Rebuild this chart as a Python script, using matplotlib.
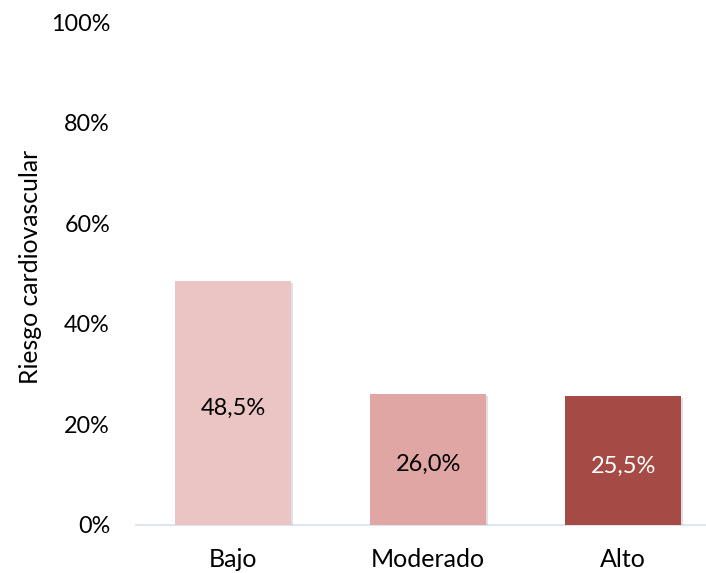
import matplotlib
matplotlib.use("Agg")
import matplotlib.pyplot as plt
import matplotlib.patheffects as pe
from matplotlib.ticker import FuncFormatter

categories = ["Bajo", "Moderado", "Alto"]
values = [48.5, 26.0, 25.5]
labels = ["48,5%", "26,0%", "25,5%"]
colors = ["#EBC5C4", "#E0A6A4", "#A54A44"]
label_colors = ["black", "black", "white"]
yticks = [0, 20, 40, 60, 80, 100]

plt.rcParams['font.family'] = ['Lato', 'DejaVu Sans']

W, H = 706, 573
fig = plt.figure(figsize=(W/100, H/100), dpi=100)
ax = fig.add_axes([136/W, 1 - 524.5/H, (706-136)/W, (524.5-22.5)/H])

x = list(range(len(categories)))
bars = ax.bar(x, values, width=0.595, color=colors, zorder=3)
for b in bars:
    b.set_path_effects([pe.SimplePatchShadow(offset=(1.2, -1.2), shadow_rgbFace='#999999', alpha=0.3), pe.Normal()])

for xi, v, lab, c in zip(x, values, labels, label_colors):
    ax.annotate(lab, (xi, v/2), xytext=(0, -4), textcoords='offset points',
                ha='center', va='center', fontsize=17, color=c, zorder=4)

ax.set_xlim(-0.5, 2.5 - 14.5/195)
ax.set_ylim(0, 100)
ax.set_yticks(yticks)
ax.yaxis.set_major_formatter(FuncFormatter(lambda v, p: f"{int(v)}%"))
ax.set_xticks(x)
ax.set_xticklabels(categories)
ax.tick_params(axis='y', length=0, labelsize=16.8, pad=18.7)
ax.tick_params(axis='x', length=0, labelsize=18, pad=17)
for s in ['top', 'right', 'left']:
    ax.spines[s].set_visible(False)
ax.spines['bottom'].set_color('#D5E0EE')
ax.spines['bottom'].set_linewidth(1.2)
ax.set_ylabel("Riesgo cardiovascular", fontsize=17.8)
ax.yaxis.set_label_coords(-0.165, 0.513)

fig.savefig("out.png", dpi=100)
